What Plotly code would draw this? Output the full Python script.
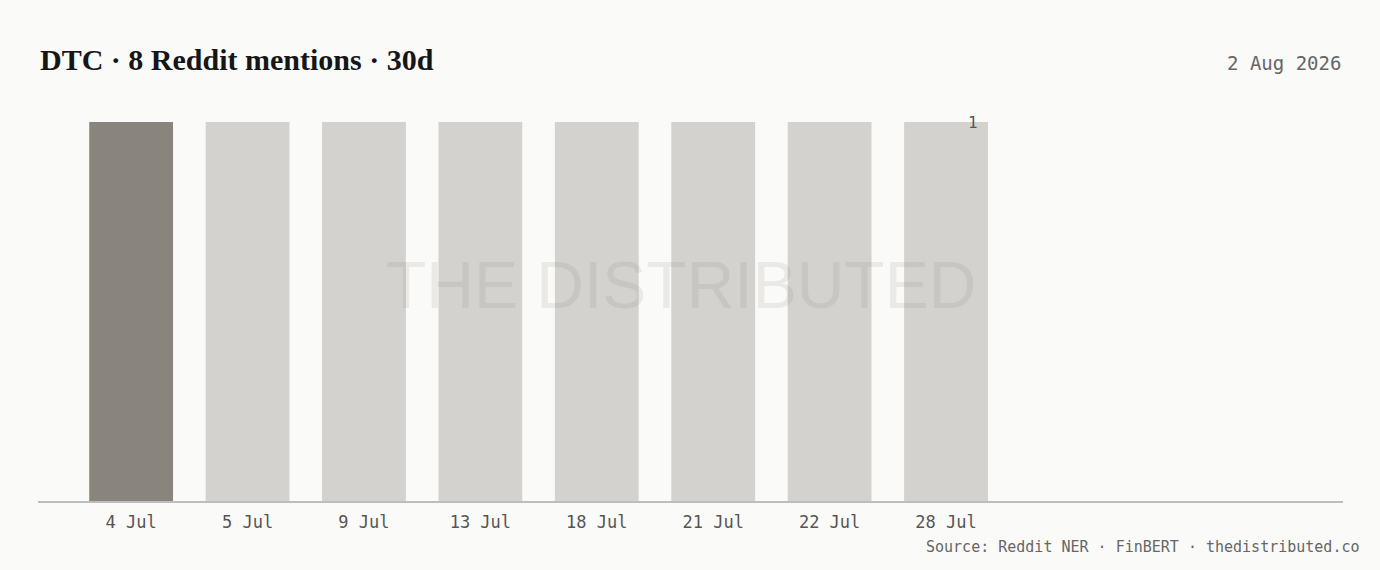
import plotly.graph_objects as go

# mentions per day
days = ["4 Jul", "5 Jul", "9 Jul", "13 Jul", "18 Jul", "21 Jul", "22 Jul", "28 Jul"]
mentions = [1, 1, 1, 1, 1, 1, 1, 1]
highlight = "4 Jul"

title = "DTC · 8 Reddit mentions · 30d"
as_of = "2 Aug 2026"
source = "Source: Reddit NER · FinBERT · thedistributed.co"

colors = ["#8a857c" if d == highlight else "#d3d2ce" for d in days]

fig = go.Figure()
fig.add_trace(go.Bar(
    x=days, y=mentions,
    marker=dict(color=colors, line=dict(width=0)),
    width=0.72,
    hoverinfo="x+y",
))

# watermark
fig.add_annotation(
    text="THE DISTRIBUTED", xref="paper", yref="paper", x=0.493, y=0.57,
    showarrow=False,
    font=dict(family="Liberation Sans, Arial, sans-serif", size=66, color="rgba(120,118,110,0.12)"),
)

# label on last bar
fig.add_annotation(
    x=days[-1], y=mentions[-1], text=str(mentions[-1]),
    showarrow=False, xanchor="right", yanchor="middle", xshift=34,
    font=dict(family="DejaVu Sans Mono, monospace", size=16, color="#555555"),
)

fig.add_annotation(
    text="<b>" + title + "</b>", xref="paper", yref="paper", x=0, y=1, xanchor="left", yanchor="middle",
    yshift=63, showarrow=False,
    font=dict(family="Liberation Serif, DejaVu Serif, serif", size=30, color="#161616"),
)
fig.add_annotation(
    text=as_of, xref="paper", yref="paper", x=1, y=1, xanchor="right", yanchor="middle",
    yshift=59, showarrow=False,
    font=dict(family="DejaVu Sans Mono, monospace", size=19, color="#666666"),
)
fig.add_annotation(
    text=source, xref="paper", yref="paper", x=1, y=0, xanchor="right", yanchor="middle",
    yshift=-46, xshift=18, showarrow=False,
    font=dict(family="DejaVu Sans Mono, monospace", size=15, color="#666666"),
)

fig.update_layout(
    width=1380, height=570,
    margin=dict(l=38, r=37, t=122, b=69),
    paper_bgcolor="#fafaf8", plot_bgcolor="#fafaf8",
    showlegend=False,
    bargap=0.28,
    xaxis=dict(
        type="category", range=[-0.8, 10.41],
        showgrid=False, zeroline=False,
        showline=True, linecolor="#bdbdbd", linewidth=1.5,
        ticks="", ticklabelstandoff=5,
        tickfont=dict(family="DejaVu Sans Mono, monospace", size=17, color="#555555"),
    ),
    yaxis=dict(range=[0, 1], visible=False, showgrid=False, zeroline=False),
)

fig.write_html("out.html", config={"displayModeBar": False},
               post_script="document.body.style.margin='0';")
